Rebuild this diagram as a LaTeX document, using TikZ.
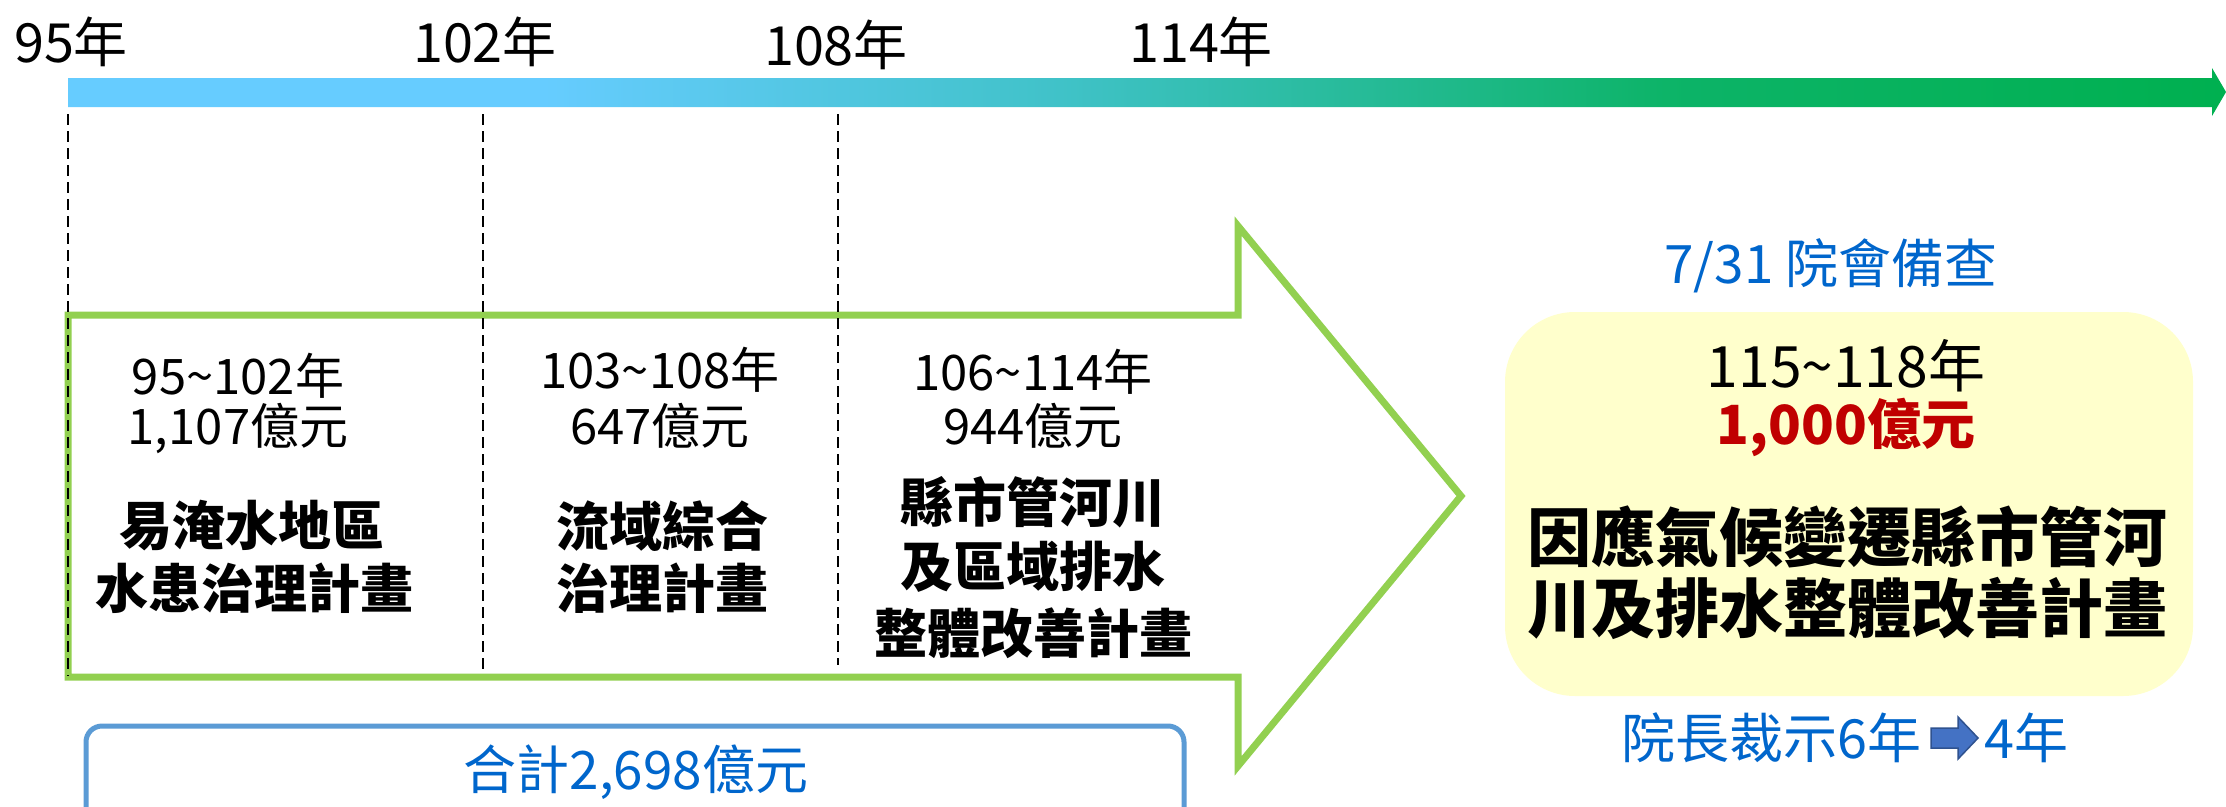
\documentclass[tikz,border=0pt]{standalone}
\usepackage{fontspec}
\setmainfont{Noto Sans CJK TC}
\newfontfamily\heavyfont{Noto Sans CJK TC Black}
\definecolor{tlblue}{HTML}{66CCFF}
\definecolor{tlmid}{HTML}{40C2C8}
\definecolor{tlgreen}{HTML}{00B050}
\definecolor{agreen}{HTML}{92D050}
\definecolor{tblue}{HTML}{0066CC}
\definecolor{bblue}{HTML}{5B9BD5}
\definecolor{yel}{HTML}{FFFFCC}
\definecolor{dred}{HTML}{C00000}
\definecolor{arrblue}{HTML}{4472C4}
\definecolor{arrdark}{HTML}{2F528F}
\pgfdeclarehorizontalshading{timeline}{100bp}{color(0bp)=(tlblue); color(25bp)=(tlblue); color(36bp)=(tlblue); color(48bp)=(tlmid); color(62bp)=(tlgreen!80!tlmid); color(75bp)=(tlgreen); color(100bp)=(tlgreen)}
\begin{document}
\begin{tikzpicture}[x=1pt,y=-1pt,
  yearlbl/.style={font=\fontsize{54}{60}\selectfont, inner sep=0pt},
  numtxt/.style={font=\fontsize{49}{55}\selectfont, inner sep=0pt},
  titletxt/.style={font=\fontsize{53}{60}\selectfont\heavyfont, inner sep=0pt},
  divider/.style={black, line width=2.5pt, dash pattern=on 11pt off 6pt},
  bluetxt/.style={text=tblue, inner sep=0pt}]
\useasboundingbox (0,0) rectangle (2226,806);
\fill[white] (0,0) rectangle (2226,806);
\clip (0,0) rectangle (2226,806);
% timeline bar
\shade[shading=timeline]
  (68,78) -- (2212,78) -- (2212,68) -- (2226,92) -- (2212,116) -- (2212,107) -- (68,107) -- cycle;
% year labels
\node[yearlbl] (y95) at (71,42) {95年};
\node[yearlbl] (y102) at (485,42) {102年};
\node[yearlbl] (y108) at (836,45) {108年};
\node[yearlbl] (y114) at (1201,42) {114年};
% green block arrow
\draw[agreen, line width=7pt, miter limit=10]
  (68,315) -- (1238,315) -- (1238,226) -- (1461,496) -- (1238,766) -- (1238,677) -- (68,677) -- cycle;
% dashed dividers
\coordinate (d1t) at (68,114); \coordinate (d1b) at (68,676);
\coordinate (d2t) at (483,114); \coordinate (d2b) at (483,672);
\coordinate (d3t) at (838,114); \coordinate (d3b) at (838,665);
\draw[divider] (d1t) -- (d1b);
\draw[divider] (d2t) -- (d2b);
\draw[divider] (d3t) -- (d3b);
% column 1
\node[numtxt] (c1a) at (238,376) {95\textasciitilde 102年};
\node[numtxt] (c1b) at (238,429) {1,107億元};
\node[titletxt] (c1c) at (252,526) {易淹水地區};
\node[titletxt] (c1d) at (254,588) {水患治理計畫};
% column 2
\node[numtxt] (c2a) at (660,370) {103\textasciitilde 108年};
\node[numtxt] (c2b) at (660,426) {647億元};
\node[titletxt] (c2c) at (662,526) {流域綜合};
\node[titletxt] (c2d) at (662,588) {治理計畫};
% column 3
\node[numtxt] (c3a) at (1033,372) {106\textasciitilde 114年};
\node[numtxt] (c3b) at (1033,426) {944億元};
\node[titletxt] (c3c) at (1033,502) {縣市管河川};
\node[titletxt] (c3d) at (1033,567) {及區域排水};
\node[titletxt] (c3e) at (1033,633) {整體改善計畫};
% total box
\draw[bblue, line width=5pt, rounded corners=16pt] (86,726) rectangle (1184,840);
\node[bluetxt, font=\fontsize{53}{58}\selectfont] (total) at (636,772) {合計2,698億元};
% right box
\node[bluetxt, font=\fontsize{53}{58}\selectfont] (review) at (1831,266) {7/31 院會備查};
\fill[yel, rounded corners=70pt] (1505,312) rectangle (2193,696);
\node[inner sep=0pt, font=\fontsize{57}{62}\selectfont] (r1) at (1846,366) {115\textasciitilde 118年};
\node[inner sep=0pt, text=dred, font=\fontsize{54}{60}\selectfont\heavyfont] (r2) at (1846,427) {1,000億元};
\node[inner sep=0pt, font=\fontsize{64}{70}\selectfont\heavyfont] (r3) at (1847,537) {因應氣候變遷縣市管河};
\node[inner sep=0pt, font=\fontsize{64}{70}\selectfont\heavyfont] (r4) at (1847,608) {川及排水整體改善計畫};
% bottom note
\node[bluetxt, font=\fontsize{54}{60}\selectfont, anchor=east] (n1) at (1922,738) {院長裁示6年};
\node[bluetxt, font=\fontsize{54}{60}\selectfont, anchor=west] (n2) at (1984,738) {4年};
\filldraw[fill=arrblue, draw=arrdark, line width=1.5pt]
  (1931,728) -- (1958,728) -- (1958,717) -- (1978,738) -- (1958,759) -- (1958,748) -- (1931,748) -- cycle;
\end{tikzpicture}
\end{document}
